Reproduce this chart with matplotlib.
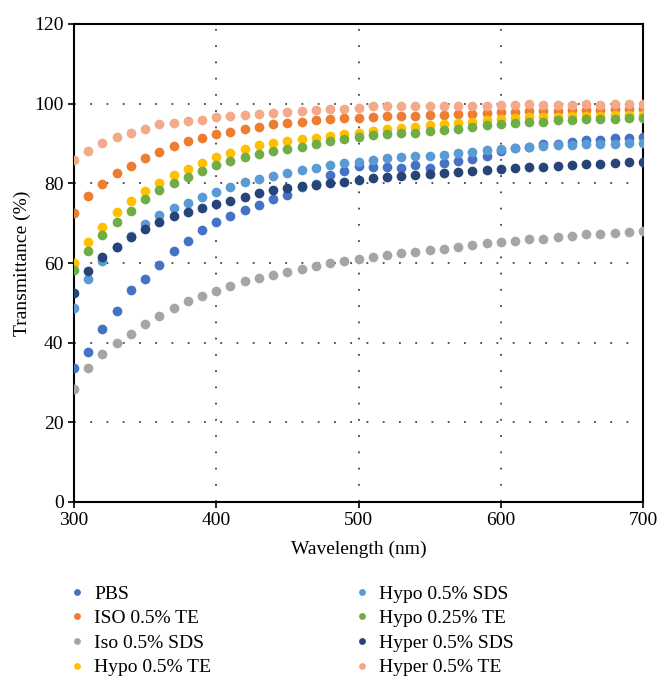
import matplotlib
matplotlib.use("Agg")
import matplotlib.pyplot as plt
import numpy as np

plt.rcParams['font.family'] = ['Liberation Serif', 'DejaVu Serif']

wavelength = list(range(300, 701, 10))

pbs = [33.7, 37.7, 43.4, 48.0, 53.2, 55.9, 59.5, 63.0, 65.5, 68.2, 70.2,
       71.8, 73.2, 74.6, 76.0, 77.0, 79.2, 79.8, 82.1, 83.2, 84.4,
       84.0, 84.1, 83.9, 84.6, 83.9, 85.0, 85.6, 86.1, 86.8, 88.0,
       88.8, 89.2, 90.0, 90.0, 90.5, 90.8, 91.0, 91.4, 91.4, 91.6]
iso_te = [72.5, 76.7, 79.8, 82.6, 84.4, 86.4, 87.9, 89.4, 90.6, 91.4, 92.3,
          93.0, 93.7, 94.2, 94.8, 95.2, 95.5, 95.8, 96.2, 96.3, 96.5,
          96.7, 96.9, 97.0, 97.0, 97.2, 97.2, 97.4, 97.5, 97.7, 97.9,
          97.9, 98.1, 98.1, 98.2, 98.3, 98.4, 98.5, 98.6, 98.6, 98.7]
iso_sds = [28.4, 33.7, 37.2, 39.9, 42.3, 44.6, 46.8, 48.7, 50.5, 51.7, 53.0,
           54.3, 55.4, 56.2, 57.1, 57.8, 58.6, 59.3, 59.9, 60.5, 61.0,
           61.6, 62.1, 62.5, 62.8, 63.3, 63.6, 64.1, 64.4, 64.9, 65.2,
           65.4, 65.9, 66.1, 66.5, 66.9, 67.2, 67.3, 67.6, 67.8, 68.0]
hypo_te = [60.0, 65.2, 69.1, 72.7, 75.6, 78.1, 80.2, 82.0, 83.7, 85.0, 86.5,
           87.5, 88.6, 89.5, 90.1, 90.6, 91.1, 91.5, 92.0, 92.3, 92.7,
           93.1, 93.6, 94.0, 94.2, 94.6, 94.8, 95.2, 95.4, 95.8, 96.2,
           96.4, 96.6, 96.6, 96.7, 96.9, 96.9, 96.9, 97.1, 97.2, 97.2]
hypo_sds = [48.7, 56.0, 60.6, 63.9, 66.8, 69.7, 72.1, 73.7, 75.0, 76.5, 77.9,
            79.1, 80.3, 81.1, 81.8, 82.6, 83.4, 83.9, 84.6, 85.0, 85.4,
            85.9, 86.3, 86.5, 86.8, 86.9, 87.2, 87.7, 87.9, 88.3, 88.6,
            88.9, 89.2, 89.4, 89.6, 89.6, 89.8, 89.8, 90.0, 90.1, 90.2]
hypo025_te = [58.2, 62.9, 67.0, 70.4, 73.1, 76.1, 78.3, 80.0, 81.7, 83.2, 84.6,
              85.7, 86.5, 87.4, 88.0, 88.5, 89.2, 89.9, 90.6, 91.1, 91.6,
              92.1, 92.4, 92.7, 92.7, 93.1, 93.4, 93.7, 94.1, 94.6, 95.0,
              95.1, 95.5, 95.5, 95.8, 96.0, 96.1, 96.2, 96.2, 96.3, 96.5]
hyper_sds = [52.4, 58.1, 61.6, 64.1, 66.6, 68.5, 70.4, 71.7, 72.7, 73.8, 74.8,
             75.6, 76.6, 77.5, 78.3, 78.8, 79.3, 79.6, 80.1, 80.3, 80.8,
             81.3, 81.7, 81.8, 82.1, 82.3, 82.5, 82.9, 83.0, 83.4, 83.7,
             83.8, 84.0, 84.2, 84.4, 84.5, 84.8, 84.9, 85.1, 85.3, 85.4]
hyper_te = [85.8, 88.1, 90.1, 91.6, 92.7, 93.7, 94.8, 95.2, 95.7, 96.0, 96.6,
            96.9, 97.2, 97.5, 97.7, 98.0, 98.2, 98.4, 98.6, 98.7, 98.9,
            99.3, 99.3, 99.4, 99.4, 99.4, 99.4, 99.4, 99.5, 99.5, 99.7,
            99.7, 99.8, 99.7, 99.7, 99.7, 99.8, 99.6, 99.8, 99.8, 99.8]

labels = ["PBS", "ISO 0.5% TE", "Iso 0.5% SDS", "Hypo 0.5% TE",
          "Hypo 0.5% SDS", "Hypo 0.25% TE", "Hyper 0.5% SDS", "Hyper 0.5% TE"]
series = [pbs, iso_te, iso_sds, hypo_te, hypo_sds, hypo025_te, hyper_sds, hyper_te]
colors = ["#4472C4", "#ED7D31", "#A5A5A5", "#FFC000",
          "#5B9BD5", "#70AD47", "#264478", "#F4A988"]

x_ticks = [300, 400, 500, 600, 700]
y_ticks = [0, 20, 40, 60, 80, 100, 120]

fig = plt.figure(figsize=(6.57, 6.82), dpi=100)
ax = fig.add_axes([74/657, 1 - 502/682, (643 - 74)/657, (502 - 24)/682])

handles = []
for vals, c, lab in zip(series, colors, labels):
    h, = ax.plot(wavelength, vals, 'o', ms=7, color=c, mec='none', label=lab, zorder=3)
    handles.append(h)

ax.set_xlim(300, 700)
ax.set_ylim(0, 120)
ax.set_xticks(x_ticks)
ax.set_yticks(y_ticks)
ax.tick_params(axis='both', labelsize=14, direction='out', length=4, width=1.2, colors='black')
ax.grid(True, linestyle=(0, (1, 8)), color='#444444', linewidth=1.3)
for s in ax.spines.values():
    s.set_linewidth(1.5)
    s.set_color('black')

ax.set_xlabel("Wavelength (nm)", fontsize=14, labelpad=8)
ax.set_ylabel("Transmittance (%)", fontsize=14, labelpad=2)

leg_kw = dict(frameon=False, fontsize=14, handlelength=0.8, handletextpad=0.5,
              labelspacing=0.36, borderpad=0, borderaxespad=0, markerscale=0.7,
              loc='upper left', numpoints=1)
leg1 = fig.legend(handles[:4], labels[:4], bbox_to_anchor=(69/657, 1 - 585/682), **leg_kw)
leg2 = fig.legend(handles[4:], labels[4:], bbox_to_anchor=(354/657, 1 - 585/682), **leg_kw)

fig.savefig("out.png", dpi=100)
